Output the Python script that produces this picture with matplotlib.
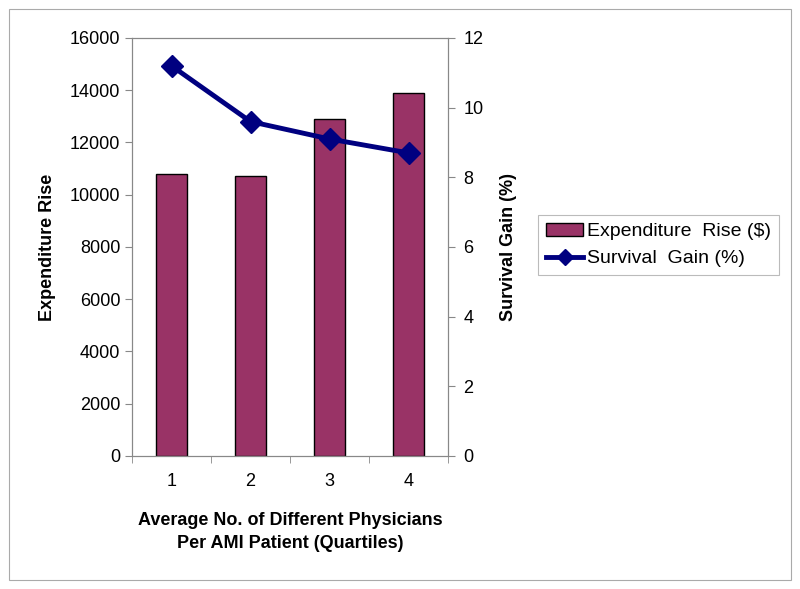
import matplotlib
matplotlib.use("Agg")
import matplotlib.pyplot as plt
import numpy as np
from matplotlib.patches import Rectangle

plt.rcParams['font.family'] = ['Liberation Sans', 'DejaVu Sans']

categories = ['1', '2', '3', '4']
expenditure = [10800, 10700, 12900, 13900]
survival = [11.2, 9.6, 9.1, 8.7]

fig = plt.figure(figsize=(8, 5.89), dpi=100)
fig.patches.append(Rectangle((0.011, 0.015), 0.978, 0.97, transform=fig.transFigure,
                             fill=False, edgecolor='#aaaaaa', linewidth=0.8))
ax = fig.add_axes([0.165, 0.226, 0.395, 0.7095])
x = np.arange(len(categories))
bars = ax.bar(x, expenditure, width=0.4, color='#993366', edgecolor='black',
              linewidth=1, label='Expenditure  Rise ($)', zorder=2)
ax.set_xlim(-0.5, 3.5)
ax.set_ylim(0, 16000)
ax.set_yticks(range(0, 16001, 2000))
ax.set_xticks(x)
ax.set_xticklabels(categories)
ax.set_xticks(np.arange(-0.5, 4, 1), minor=True)
ax.tick_params(axis='x', which='major', length=0, pad=12, labelsize=13)
ax.tick_params(axis='x', which='minor', length=5, color='#888888')
ax.tick_params(axis='y', length=5, color='#888888', labelsize=13)
for s in ax.spines.values():
    s.set_color('#888888')
ax.set_ylabel('Expenditure Rise', fontsize=13, fontweight='bold', labelpad=10)
ax.set_xlabel('Average No. of Different Physicians\nPer AMI Patient (Quartiles)',
              fontsize=13, fontweight='bold', labelpad=16, linespacing=1.5)

ax2 = ax.twinx()
line, = ax2.plot(x, survival, color='#000080', linewidth=3.5, marker='D',
                 markersize=11, label='Survival  Gain (%)', zorder=3)
ax2.set_ylim(0, 12)
ax2.set_yticks(range(0, 13, 2))
ax2.tick_params(axis='y', length=5, color='#888888', labelsize=13, pad=6)
for s in ax2.spines.values():
    s.set_color('#888888')
ax2.set_ylabel('Survival Gain (%)', fontsize=13, fontweight='bold', labelpad=12)

leg = fig.legend([bars, line], ['Expenditure  Rise ($)', 'Survival  Gain (%)'],
                 loc='center left', bbox_to_anchor=(0.668, 0.584), fontsize=14,
                 frameon=True, fancybox=False, edgecolor='#aaaaaa',
                 handlelength=1.9, handletextpad=0.2, borderpad=0.4,
                 borderaxespad=0.2, markerscale=0.7, labelspacing=0.5)
leg.get_frame().set_linewidth(0.8)

fig.savefig('out.png', dpi=100)
